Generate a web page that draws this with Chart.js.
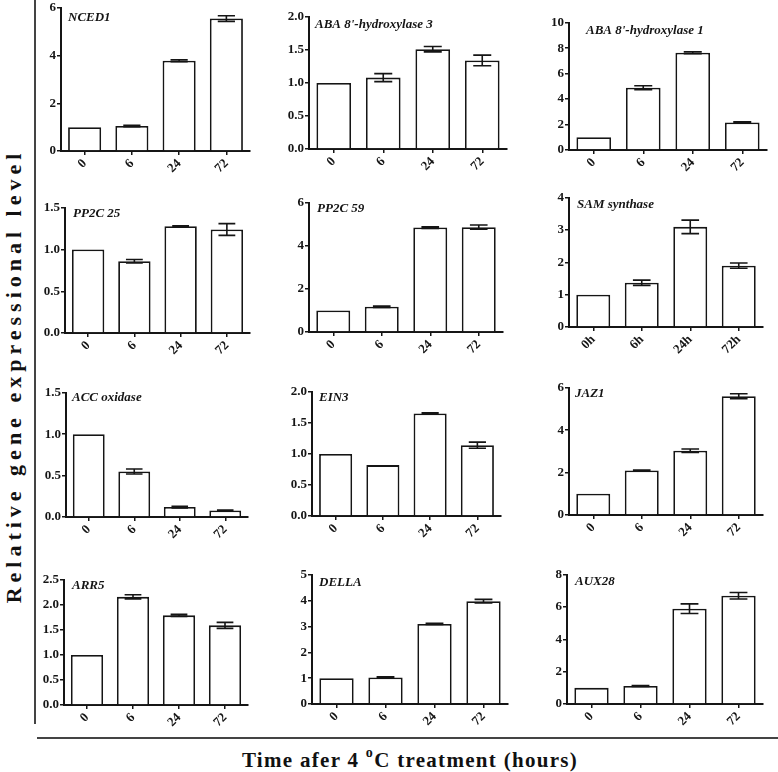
<!DOCTYPE html>
<html>
<head>
<meta charset="utf-8">
<script src="https://cdn.jsdelivr.net/npm/chart.js@4.4.1/dist/chart.umd.min.js"></script>
<style>
  html, body { margin:0; padding:0; background:#fff; }
  #wrap { position:relative; width:778px; height:772px; overflow:hidden; background:#fff; }
  .panel { position:absolute; }
  #vline { position:absolute; left:34px; top:0; width:2px; height:724px; background:#444; }
  #hline { position:absolute; left:37px; top:737px; width:741px; height:2px; background:#444; }
  #ytitle { position:absolute; left:14px; top:376px; transform:translate(-50%,-50%) rotate(-90deg);
            white-space:nowrap; font:bold 22px "Liberation Serif", "Times New Roman", serif; letter-spacing:5px; color:#111; }
  #xtitle { position:absolute; left:410px; top:760px; transform:translate(-50%,-50%);
            white-space:nowrap; font:bold 21px "Liberation Serif", "Times New Roman", serif; letter-spacing:1.3px; color:#111; }
  #xtitle sup { font-size:14px; position:relative; top:-2px; }
</style>
</head>
<body>
<div id="wrap">
  <div id="vline"></div>
  <div id="hline"></div>
  <div id="ytitle">Relative gene expressional level</div>
  <div id="xtitle">Time afer 4 <sup>o</sup>C treatment (hours)</div>
</div>
<script>
// ---------- DATA ----------
const categories    = ['0', '6', '24', '72'];
const samCategories = ['0h', '6h', '24h', '72h'];

const geneNames = ['NCED1', "ABA 8'-hydroxylase 3", "ABA 8'-hydroxylase 1",
                   'PP2C 25', 'PP2C 59', 'SAM synthase',
                   'ACC oxidase', 'EIN3', 'JAZ1',
                   'ARR5', 'DELLA', 'AUX28'];

const nced1      = [1.00, 1.05, 3.78, 5.55];
const nced1Err   = [0, 0.03, 0.04, 0.12];
const aba3       = [1.00, 1.08, 1.51, 1.34];
const aba3Err    = [0, 0.06, 0.04, 0.08];
const aba1       = [1.00, 4.90, 7.65, 2.17];
const aba1Err    = [0, 0.15, 0.07, 0.05];
const pp2c25     = [1.00, 0.86, 1.28, 1.24];
const pp2c25Err  = [0, 0.02, 0.005, 0.07];
const pp2c59     = [1.00, 1.17, 4.85, 4.87];
const pp2c59Err  = [0, 0.03, 0.04, 0.10];
const sam        = [1.00, 1.37, 3.10, 1.90];
const samErr     = [0, 0.08, 0.21, 0.08];
const acc        = [1.00, 0.55, 0.12, 0.08];
const accErr     = [0, 0.03, 0.01, 0.003];
const ein3       = [1.00, 0.82, 1.65, 1.14];
const ein3Err    = [0, 0, 0.01, 0.05];
const jaz1       = [1.00, 2.10, 3.03, 5.60];
const jaz1Err    = [0, 0.02, 0.08, 0.12];
const arr5       = [1.00, 2.16, 1.79, 1.59];
const arr5Err    = [0, 0.04, 0.02, 0.06];
const della      = [1.00, 1.03, 3.10, 3.98];
const dellaErr   = [0, 0.02, 0.02, 0.07];
const aux28      = [1.00, 1.12, 5.90, 6.70];
const aux28Err   = [0, 0.03, 0.30, 0.20];

// y-axis ranges
const yMax      = [6, 2.0, 10, 1.5, 6, 4, 1.5, 2.0, 6, 2.5, 5, 8];
const yStep     = [2, 0.5, 2, 0.5, 2, 1, 0.5, 0.5, 2, 0.5, 1, 2];
const yDecimals = [0, 1, 0, 1, 0, 0, 1, 1, 0, 1, 0, 0];

const seriesValues = [nced1, aba3, aba1, pp2c25, pp2c59, sam, acc, ein3, jaz1, arr5, della, aux28];
const seriesErrors = [nced1Err, aba3Err, aba1Err, pp2c25Err, pp2c59Err, samErr, accErr, ein3Err, jaz1Err, arr5Err, dellaErr, aux28Err];
const seriesLabels = [categories, categories, categories, categories, categories, samCategories,
                      categories, categories, categories, categories, categories, categories];

// ---------- LAYOUT (plot-area geometry: axisX, topY, bottomY, rightX) ----------
const plotBoxes = [
  [61, 7, 151, 250], [309, 16, 149, 507], [569, 22, 150, 767],
  [65, 207, 333, 250], [309, 202, 332, 503], [569, 197, 327, 763],
  [66, 392, 517, 248], [312, 391, 516, 501], [569, 387, 515, 763],
  [64, 579, 705, 248], [312, 574, 704, 508], [567, 574, 704, 763]
];
// gene label offsets inside plot area [dx, dy(center)]
const labelOffsets = [
  [7, 10], [6, 8], [17, 8],
  [8, 6], [8, 6], [8, 7],
  [6, 5], [7, 6], [6, 6],
  [8, 6], [7, 8], [8, 7]
];

const Y_W = 32, X_H = 34, PAD_T = 8, PAD_R = 3;
const FONT = '"Liberation Serif", "Times New Roman", serif';
const INK = '#151515';

const errorBarPlugin = {
  id: 'errorBars',
  afterDatasetsDraw(chart, args, opts) {
    const meta = chart.getDatasetMeta(0);
    const ys = chart.scales.y;
    const ctx = chart.ctx;
    const vals = chart.data.datasets[0].data;
    ctx.save();
    ctx.strokeStyle = INK;
    ctx.lineWidth = 1.6;
    meta.data.forEach((bar, i) => {
      const e = opts.errors[i];
      if (!e) return;
      const v = vals[i];
      const yT = ys.getPixelForValue(v + e);
      const yB = ys.getPixelForValue(v - e);
      const half = bar.width * 0.26;
      ctx.beginPath();
      ctx.moveTo(bar.x, yT); ctx.lineTo(bar.x, yB);
      ctx.moveTo(bar.x - half, yT); ctx.lineTo(bar.x + half, yT);
      ctx.moveTo(bar.x - half, yB); ctx.lineTo(bar.x + half, yB);
      ctx.stroke();
    });
    ctx.restore();
  }
};

const geneLabelPlugin = {
  id: 'geneLabel',
  afterDraw(chart, args, opts) {
    const ctx = chart.ctx;
    const a = chart.chartArea;
    ctx.save();
    ctx.font = 'italic bold 13px ' + FONT;
    ctx.fillStyle = INK;
    ctx.textBaseline = 'middle';
    ctx.textAlign = 'left';
    ctx.fillText(opts.text, a.left + opts.dx, a.top + opts.dy);
    ctx.restore();
  }
};

const wrap = document.getElementById('wrap');

plotBoxes.forEach((box, k) => {
  const [ax, ty, by, rx] = box;
  const L = ax - Y_W, T = ty - PAD_T;
  const W = rx - ax + Y_W + PAD_R;
  const H = by - ty + PAD_T + X_H;
  const div = document.createElement('div');
  div.className = 'panel';
  div.style.left = L + 'px'; div.style.top = T + 'px';
  div.style.width = W + 'px'; div.style.height = H + 'px';
  const cv = document.createElement('canvas');
  cv.width = W; cv.height = H;
  cv.style.width = W + 'px'; cv.style.height = H + 'px';
  div.appendChild(cv);
  wrap.appendChild(div);

  new Chart(cv.getContext('2d'), {
    type: 'bar',
    data: {
      labels: seriesLabels[k],
      datasets: [{
        data: seriesValues[k],
        backgroundColor: '#ffffff',
        borderColor: INK,
        borderWidth: 1.8,
        borderSkipped: 'bottom',
        barPercentage: 0.7,
        categoryPercentage: 1.0
      }]
    },
    options: {
      responsive: false,
      animation: false,
      devicePixelRatio: 1,
      layout: { padding: { top: PAD_T, right: PAD_R, left: 0, bottom: 0 } },
      plugins: {
        legend: { display: false },
        tooltip: { enabled: false },
        title: { display: false },
        errorBars: { errors: seriesErrors[k] },
        geneLabel: { text: geneNames[k], dx: labelOffsets[k][0], dy: labelOffsets[k][1] }
      },
      scales: {
        x: {
          offset: true,
          grid: { display: true, drawOnChartArea: false, drawTicks: true, tickLength: 4,
                  offset: false, color: INK, lineWidth: 1.5 },
          border: { display: true, color: INK, width: 2 },
          ticks: { color: INK, font: { family: FONT, size: 13, weight: 'bold' },
                   maxRotation: 45, minRotation: 45, padding: 1 },
          afterFit(scale) { scale.height = X_H; }
        },
        y: {
          min: 0, max: yMax[k],
          grid: { display: true, drawOnChartArea: false, drawTicks: true, tickLength: 4,
                  color: INK, lineWidth: 1.5 },
          border: { display: true, color: INK, width: 2 },
          ticks: { color: INK, stepSize: yStep[k], padding: 1,
                   font: { family: FONT, size: 13, weight: 'bold' },
                   callback: (v) => Number(v).toFixed(yDecimals[k]) },
          afterFit(scale) { scale.width = Y_W; }
        }
      }
    },
    plugins: [errorBarPlugin, geneLabelPlugin]
  });
});
</script>
</body>
</html>
